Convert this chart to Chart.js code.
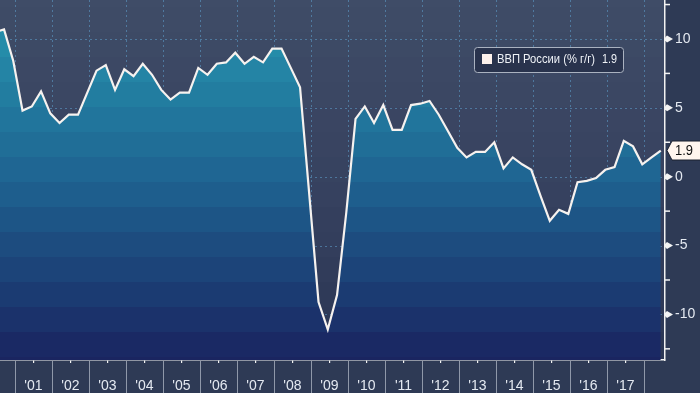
<!DOCTYPE html>
<html>
<head>
<meta charset="utf-8">
<title>ВВП России</title>
<script src="https://cdn.jsdelivr.net/npm/chart.js@4.4.1/dist/chart.umd.min.js"></script>
<style>
    html, body { margin: 0; padding: 0; background: #2e3a55; }
    canvas { display: block; }
</style>
</head>
<body>
<canvas id="gdp-chart" width="700" height="393"></canvas>
<script>
// Russian GDP, % y/y, quarterly
const quarters = [
    '2000 Q2', '2000 Q3', '2000 Q4',
    '2001 Q1', '2001 Q2', '2001 Q3', '2001 Q4',
    '2002 Q1', '2002 Q2', '2002 Q3', '2002 Q4',
    '2003 Q1', '2003 Q2', '2003 Q3', '2003 Q4',
    '2004 Q1', '2004 Q2', '2004 Q3', '2004 Q4',
    '2005 Q1', '2005 Q2', '2005 Q3', '2005 Q4',
    '2006 Q1', '2006 Q2', '2006 Q3', '2006 Q4',
    '2007 Q1', '2007 Q2', '2007 Q3', '2007 Q4',
    '2008 Q1', '2008 Q2', '2008 Q3', '2008 Q4',
    '2009 Q1', '2009 Q2', '2009 Q3', '2009 Q4',
    '2010 Q1', '2010 Q2', '2010 Q3', '2010 Q4',
    '2011 Q1', '2011 Q2', '2011 Q3', '2011 Q4',
    '2012 Q1', '2012 Q2', '2012 Q3', '2012 Q4',
    '2013 Q1', '2013 Q2', '2013 Q3', '2013 Q4',
    '2014 Q1', '2014 Q2', '2014 Q3', '2014 Q4',
    '2015 Q1', '2015 Q2', '2015 Q3', '2015 Q4',
    '2016 Q1', '2016 Q2', '2016 Q3', '2016 Q4',
    '2017 Q1', '2017 Q2', '2017 Q3', '2017 Q4',
    '2018 Q1', '2018 Q2'
];

const gdpValues = [
    10.5, 10.7, 8.4,
    4.8, 5.1, 6.2, 4.6,
    3.9, 4.5, 4.5, 6.1,
    7.7, 8.1, 6.3, 7.8,
    7.3, 8.2, 7.4, 6.3,
    5.6, 6.1, 6.1, 7.9,
    7.4, 8.2, 8.3, 9.0,
    8.2, 8.7, 8.3, 9.3,
    9.3, 7.9, 6.5, -1.3,
    -9.1, -11.1, -8.6, -2.6,
    4.2, 5.1, 3.9, 5.2,
    3.4, 3.4, 5.2, 5.3,
    5.5, 4.5, 3.3, 2.1,
    1.4, 1.8, 1.8, 2.5,
    0.6, 1.4, 0.9, 0.5,
    -1.4, -3.2, -2.4, -2.7,
    -0.4, -0.3, -0.1, 0.5,
    0.7, 2.6, 2.2, 0.9,
    1.4, 1.9
];

const yearStarts = [2001, 2002, 2003, 2004, 2005, 2006, 2007, 2008, 2009,
                    2010, 2011, 2012, 2013, 2014, 2015, 2016, 2017, 2018];
const yearLabels = ["'01", "'02", "'03", "'04", "'05", "'06", "'07", "'08", "'09",
                    "'10", "'11", "'12", "'13", "'14", "'15", "'16", "'17"];
const yTicks = [-12.5, -10, -7.5, -5, -2.5, 0, 2.5, 5, 7.5, 10, 12.5];
const seriesLabel = 'ВВП России (% г/г)';

// view window
const X_MIN = 2000.595;
const X_MAX = 2018.568;
const Y_MIN = -13.31;
const Y_MAX = 12.83;

const FONT = "'Liberation Sans', Arial, sans-serif";
const OUTER_BG = '#2e3a55';
const BAND_H = 25;
const BAND_OFFSET = 7;

// quarters are plotted slightly before quarter end
function quarterPos(label) {
    const [y, q] = label.split(' Q');
    return Number(y) + Number(q) / 4 - 0.046;
}

function hexRgb(h) {
    return [1, 3, 5].map(i => parseInt(h.substr(i, 2), 16));
}

function mix(stops, t) {
    const seg = t < 0.5 ? 0 : 1;
    const lt = t < 0.5 ? t * 2 : (t - 0.5) * 2;
    const a = hexRgb(stops[seg]), b = hexRgb(stops[seg + 1]);
    const c = a.map((v, i) => Math.round(v + (b[i] - v) * lt));
    return `rgb(${c[0]},${c[1]},${c[2]})`;
}

// stepped vertical gradient over the chart area
function bandFill(ctx, area, stops) {
    const g = ctx.createLinearGradient(0, area.top, 0, area.bottom);
    const h = area.bottom - area.top;
    let y0 = area.top;
    let y1 = area.top + BAND_OFFSET;
    while (y0 < area.bottom) {
        const mid = Math.min(((y0 + Math.min(y1, area.bottom)) / 2 - area.top) / h, 1);
        const col = mix(stops, Math.max(mid, 0));
        g.addColorStop((y0 - area.top) / h, col);
        g.addColorStop(Math.min((y1 - area.top) / h, 1), col);
        y0 = y1;
        y1 += BAND_H;
    }
    return g;
}

const FILL_STOPS = ['#2799b1', '#1e6391', '#1a2460'];
const BG_STOPS = ['#3f4c67', '#374260', '#2b3654'];

const decor = {
    id: 'decor',
    beforeDraw(chart) {
        const { ctx, chartArea: a } = chart;
        ctx.save();
        ctx.fillStyle = OUTER_BG;
        ctx.fillRect(0, 0, chart.width, chart.height);
        ctx.fillStyle = bandFill(ctx, a, BG_STOPS);
        ctx.fillRect(a.left, a.top, a.right - a.left, a.bottom - a.top);
        ctx.restore();
    },
    beforeDatasetsDraw(chart) {
        // dotted grid, drawn over the area fill but under the line
        const { ctx, chartArea: a, scales: { x, y } } = chart;
        ctx.save();
        ctx.strokeStyle = 'rgba(95,160,205,0.55)';
        ctx.lineWidth = 1;
        ctx.setLineDash([2, 3]);
        [-10, -5, 0, 5, 10].forEach(v => {
            const py = Math.round(y.getPixelForValue(v)) + 0.5;
            ctx.beginPath();
            ctx.moveTo(a.left, py);
            ctx.lineTo(a.right, py);
            ctx.stroke();
        });
        yearStarts.forEach(yr => {
            const px = Math.round(x.getPixelForValue(yr)) + 0.5;
            ctx.beginPath();
            ctx.moveTo(px, a.top);
            ctx.lineTo(px, a.bottom);
            ctx.stroke();
        });
        ctx.restore();
    },
    afterDraw(chart) {
        const { ctx, chartArea: a, scales: { x, y } } = chart;
        ctx.save();

        // year separators under the x axis
        ctx.strokeStyle = '#8f98a9';
        ctx.lineWidth = 1;
        yearStarts.forEach(yr => {
            const px = Math.round(x.getPixelForValue(yr)) + 0.5;
            ctx.beginPath();
            ctx.moveTo(px, a.bottom + 1);
            ctx.lineTo(px, chart.height);
            ctx.stroke();
        });

        // right axis ticks: arrows on majors, short lines on minors
        ctx.fillStyle = '#f4f4f4';
        ctx.strokeStyle = '#f4f4f4';
        ctx.lineWidth = 1.5;
        yTicks.forEach(v => {
            const py = y.getPixelForValue(v);
            if (v % 5 === 0) {
                ctx.beginPath();
                ctx.moveTo(a.right, py - 1.5);
                ctx.lineTo(a.right + 2, py - 3.5);
                ctx.lineTo(a.right + 8, py);
                ctx.lineTo(a.right + 2, py + 3.5);
                ctx.lineTo(a.right, py + 1.5);
                ctx.closePath();
                ctx.fill();
            } else {
                ctx.beginPath();
                ctx.moveTo(a.right, py);
                ctx.lineTo(a.right + 5, py);
                ctx.stroke();
            }
        });

        // last value tag
        const last = gdpValues[gdpValues.length - 1];
        const ty = y.getPixelForValue(last);
        ctx.beginPath();
        ctx.moveTo(a.right + 2, ty);
        ctx.lineTo(a.right + 7, ty - 9.5);
        ctx.lineTo(chart.width + 2, ty - 9.5);
        ctx.lineTo(chart.width + 2, ty + 9.5);
        ctx.lineTo(a.right + 7, ty + 9.5);
        ctx.closePath();
        ctx.fillStyle = '#fff5ee';
        ctx.fill();
        ctx.strokeStyle = '#1c2230';
        ctx.lineWidth = 1;
        ctx.stroke();
        ctx.fillStyle = '#111';
        ctx.font = `15px ${FONT}`;
        ctx.textAlign = 'left';
        ctx.textBaseline = 'middle';
        ctx.fillText(last.toFixed(1), a.right + 10, ty + 0.5, 18);

        // legend box
        const lx = 474.5, ly = 47.5, lw = 149, lh = 25;
        ctx.beginPath();
        ctx.roundRect(lx, ly, lw, lh, 3);
        ctx.fillStyle = '#29334d';
        ctx.fill();
        ctx.strokeStyle = '#aab2c0';
        ctx.lineWidth = 1;
        ctx.stroke();
        ctx.fillStyle = '#fdf1ec';
        ctx.fillRect(482, 54, 10, 10);
        ctx.fillStyle = '#eef1f6';
        ctx.font = `12px ${FONT}`;
        ctx.textBaseline = 'middle';
        ctx.fillText(seriesLabel, 497, 60, 98);
        ctx.fillText(last.toFixed(1), 602, 60, 15);

        ctx.restore();
    }
};

const points = quarters.map((q, i) => ({ x: quarterPos(q), y: gdpValues[i] }));

new Chart(document.getElementById('gdp-chart'), {
    type: 'line',
    data: {
        datasets: [{
            label: seriesLabel,
            data: points,
            borderColor: '#f6f2ef',
            borderWidth: 2.2,
            pointRadius: 0,
            tension: 0,
            fill: 'start',
            backgroundColor: c => {
                const a = c.chart.chartArea;
                if (!a) return FILL_STOPS[1];
                return bandFill(c.chart.ctx, a, FILL_STOPS);
            }
        }]
    },
    options: {
        responsive: false,
        animation: false,
        devicePixelRatio: 1,
        layout: { padding: 0 },
        plugins: {
            legend: { display: false },
            tooltip: { enabled: false }
        },
        scales: {
            x: {
                type: 'linear',
                min: X_MIN,
                max: X_MAX,
                afterBuildTicks: s => { s.ticks = yearLabels.map((_, i) => ({ value: yearStarts[i] + 0.5 })); },
                afterFit: s => {
                    s.height = 33;
                    s.paddingLeft = 0;
                    s.paddingRight = 0;
                },
                ticks: {
                    autoSkip: false,
                    maxRotation: 0,
                    padding: 15,
                    color: '#e4e9f1',
                    font: { family: FONT, size: 14 },
                    callback: (v, i) => yearLabels[i]
                },
                grid: {
                    drawOnChartArea: false,
                    drawTicks: true,
                    tickLength: 3,
                    color: '#f2f2f2',
                    lineWidth: 1.2
                },
                border: { display: true, color: '#f2f2f2', width: 1.5 }
            },
            y: {
                position: 'right',
                min: Y_MIN,
                max: Y_MAX,
                afterBuildTicks: s => { s.ticks = yTicks.map(v => ({ value: v })); },
                afterFit: s => {
                    s.width = 35;
                    s.paddingTop = 0;
                    s.paddingBottom = 0;
                },
                ticks: {
                    padding: 10,
                    color: '#e4e9f1',
                    font: { family: FONT, size: 14 },
                    callback: v => (v % 5 === 0 ? String(v) : '')
                },
                grid: { display: false, drawTicks: false },
                border: { display: true, color: '#f2f2f2', width: 1.5 }
            }
        }
    },
    plugins: [decor]
});
</script>
</body>
</html>
